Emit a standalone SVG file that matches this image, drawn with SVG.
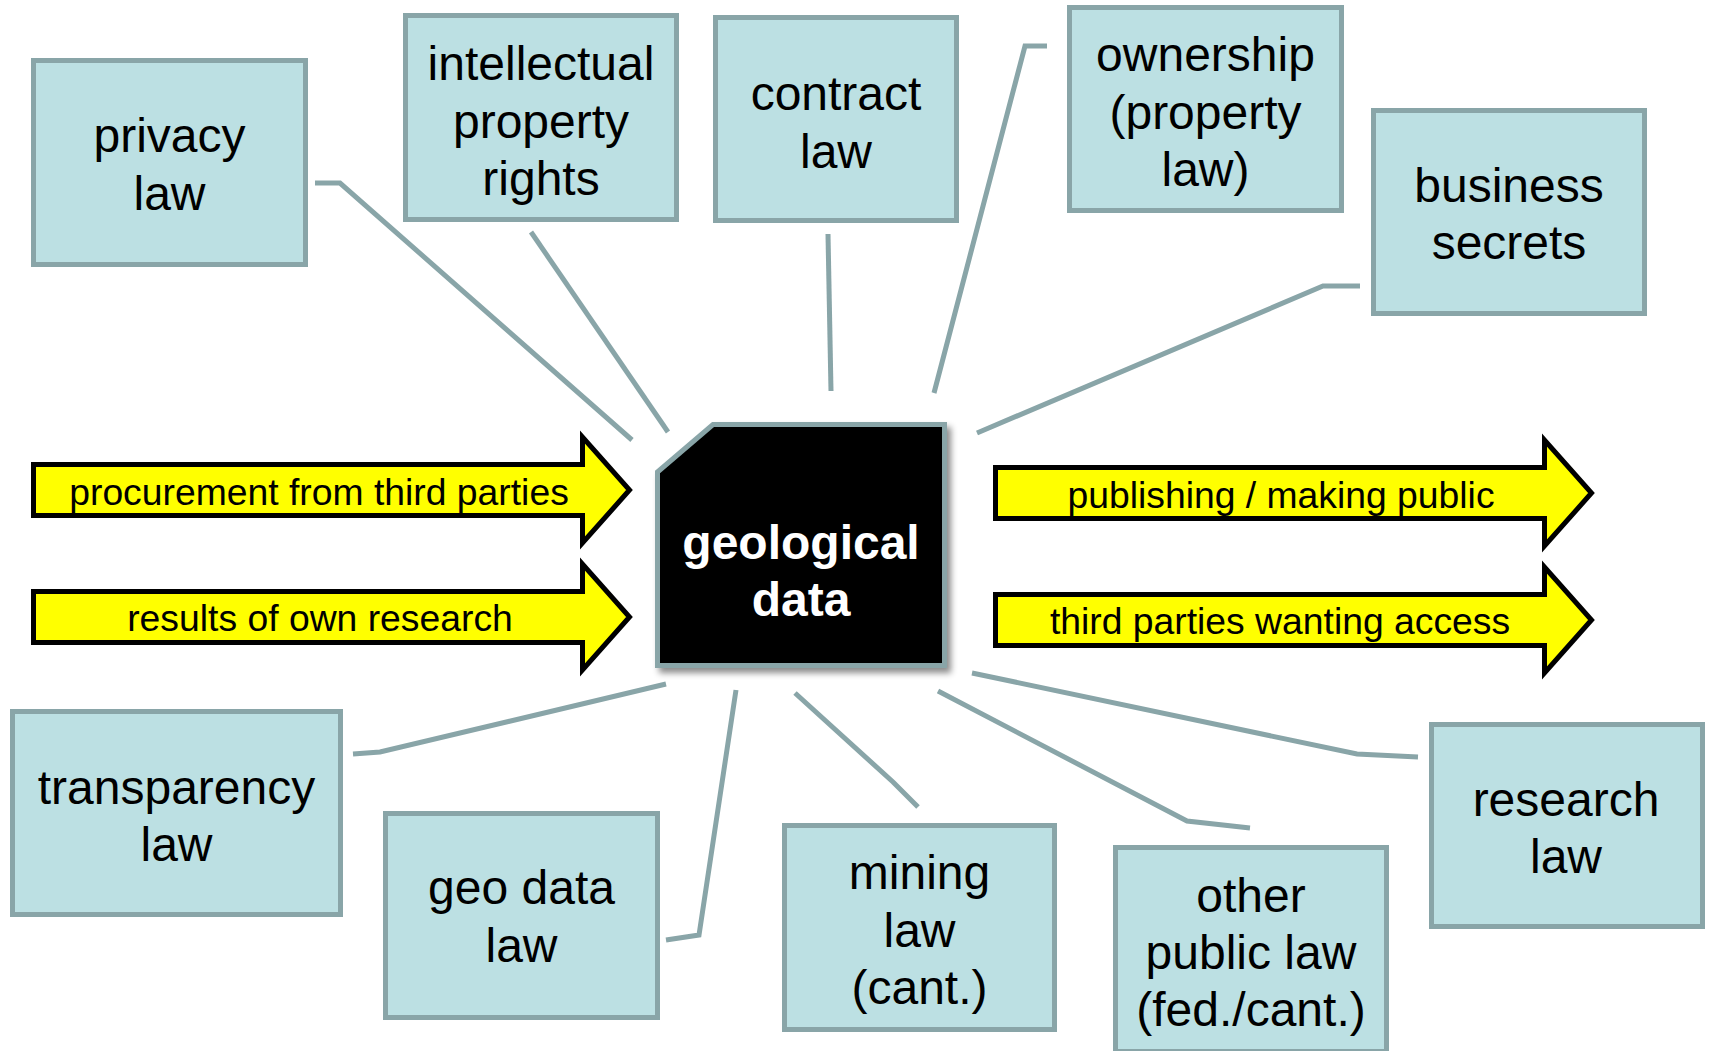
<svg xmlns="http://www.w3.org/2000/svg" width="1710" height="1051" viewBox="0 0 1710 1051">
<defs>
<style>
.box{fill:#bce0e3;stroke:#89a5a8;stroke-width:5}
.lbl{font-family:"Liberation Sans",Arial,sans-serif;font-size:48px;fill:#000;text-anchor:middle}
.core{font-family:"Liberation Sans",Arial,sans-serif;font-size:48px;font-weight:bold;fill:#fff;text-anchor:middle}
.conn{fill:none;stroke:#89a5a8;stroke-width:5;stroke-linejoin:miter}
.arrow{fill:#ffff00;stroke:#000;stroke-width:5;stroke-linejoin:miter;stroke-miterlimit:10}
.atxt{font-family:"Liberation Sans",Arial,sans-serif;font-size:37.3px;fill:#000;text-anchor:middle}
</style>
<polygon id="arr" points="0,-25.5 549,-25.5 549,-53 596,0 549,53 549,25.5 0,25.5"/>
<filter id="shadow" x="-10%" y="-10%" width="130%" height="130%">
<feDropShadow dx="4" dy="5" stdDeviation="3" flood-color="#000" flood-opacity="0.45"/>
</filter>
</defs>
<rect width="1710" height="1051" fill="#fff"/>
<g id="connectors">
<polyline class="conn" points="315,183 340,183 632,440"/>
<polyline class="conn" points="531,232 668,432"/>
<polyline class="conn" points="828,234 831,391"/>
<polyline class="conn" points="1047,46 1025,46 934,393"/>
<polyline class="conn" points="1360,286 1323,286 977,433"/>
<polyline class="conn" points="353,754 380,752 666,684"/>
<polyline class="conn" points="666,940 699,935 736,690"/>
<polyline class="conn" points="795,693 893,782 918,807"/>
<polyline class="conn" points="938,691 1187,821 1250,828"/>
<polyline class="conn" points="972,673 1357,754 1418,757"/>
</g>
<g id="privacy-law"><rect class="box" x="33.5" y="60.5" width="272" height="204"/><text class="lbl" x="169.5" y="152">privacy</text><text class="lbl" x="169.5" y="210">law</text></g>
<g id="intellectual-property-rights"><rect class="box" x="405.5" y="15.5" width="271" height="204"/><text class="lbl" x="541" y="80">intellectual</text><text class="lbl" x="541" y="137.5">property</text><text class="lbl" x="541" y="195">rights</text></g>
<g id="contract-law"><rect class="box" x="715.5" y="17.5" width="241" height="203"/><text class="lbl" x="836" y="110">contract</text><text class="lbl" x="836" y="167.5">law</text></g>
<g id="ownership"><rect class="box" x="1069.5" y="7.5" width="272" height="203"/><text class="lbl" x="1205.5" y="71">ownership</text><text class="lbl" x="1205.5" y="128.5">(property</text><text class="lbl" x="1205.5" y="186">law)</text></g>
<g id="business-secrets"><rect class="box" x="1373.5" y="110.5" width="271" height="203"/><text class="lbl" x="1509" y="202">business</text><text class="lbl" x="1509" y="259">secrets</text></g>
<g id="transparency-law"><rect class="box" x="12.5" y="711.5" width="328" height="203"/><text class="lbl" x="176.5" y="804">transparency</text><text class="lbl" x="176.5" y="861">law</text></g>
<g id="geo-data-law"><rect class="box" x="385.5" y="813.5" width="272" height="204"/><text class="lbl" x="521.5" y="904">geo data</text><text class="lbl" x="521.5" y="962">law</text></g>
<g id="mining-law"><rect class="box" x="784.5" y="825.5" width="270" height="204"/><text class="lbl" x="919.5" y="889">mining</text><text class="lbl" x="919.5" y="947">law</text><text class="lbl" x="919.5" y="1004">(cant.)</text></g>
<g id="other-public-law"><rect class="box" x="1115.5" y="847.5" width="271" height="204"/><text class="lbl" x="1251" y="912">other</text><text class="lbl" x="1251" y="969">public law</text><text class="lbl" x="1251" y="1026">(fed./cant.)</text></g>
<g id="research-law"><rect class="box" x="1431.5" y="724.5" width="271" height="202"/><text class="lbl" x="1566" y="816">research</text><text class="lbl" x="1566" y="873">law</text></g>
<g id="procurement"><use href="#arr" class="arrow" transform="translate(33.5,490)"/><text class="atxt" x="319" y="505">procurement from third parties</text></g>
<g id="own-research"><use href="#arr" class="arrow" transform="translate(33.5,617)"/><text class="atxt" x="320" y="631">results of own research</text></g>
<g id="publishing"><use href="#arr" class="arrow" transform="translate(995.5,493)"/><text class="atxt" x="1281" y="508">publishing / making public</text></g>
<g id="third-parties-access"><use href="#arr" class="arrow" transform="translate(995.5,620)"/><text class="atxt" x="1280" y="634">third parties wanting access</text></g>
<g id="geological-data"><polygon points="713,424.5 944.5,424.5 944.5,665.5 657.5,665.5 657.5,472" fill="#000" stroke="#89a5a8" stroke-width="5" filter="url(#shadow)"/><text class="core" x="801" y="559">geological</text><text class="core" x="801" y="616">data</text></g>
</svg>
